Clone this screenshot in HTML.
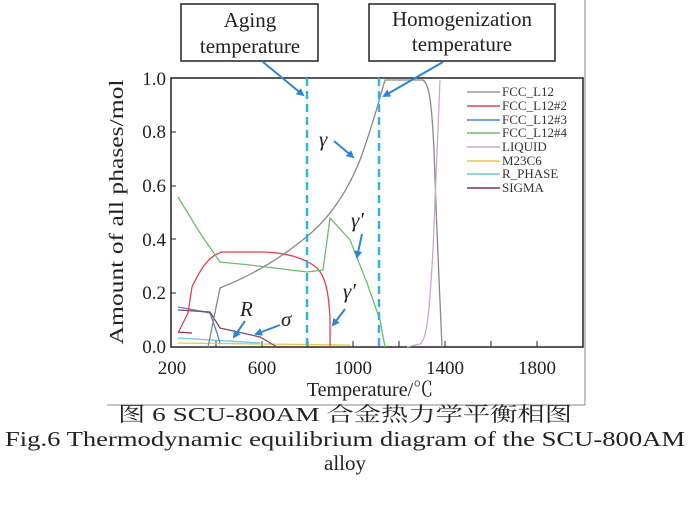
<!DOCTYPE html>
<html><head><meta charset="utf-8"><style>
html,body{margin:0;padding:0;background:#fff;}
svg{display:block;font-family:"Liberation Serif","Noto Serif CJK SC",serif;}
</style></head><body>
<svg width="690" height="512" viewBox="0 0 690 512" xmlns="http://www.w3.org/2000/svg">
<defs><marker id="ar" markerWidth="8" markerHeight="8" refX="6" refY="4" orient="auto" markerUnits="userSpaceOnUse"><path d="M0,0 L8,4 L0,8 z" fill="#2f86d0"/></marker></defs>
<line x1="585" y1="0" x2="585" y2="405" stroke="#888" stroke-width="1"/>
<line x1="107" y1="405" x2="585" y2="405" stroke="#888" stroke-width="1"/>
<rect x="171" y="78" width="412" height="269" fill="none" stroke="#222" stroke-width="1.5"/>
<g stroke="#222" stroke-width="1">
<line x1="216" y1="347" x2="216" y2="341"/><line x1="262" y1="347" x2="262" y2="341"/><line x1="308" y1="347" x2="308" y2="341"/><line x1="353" y1="347" x2="353" y2="341"/><line x1="399" y1="347" x2="399" y2="341"/><line x1="445" y1="347" x2="445" y2="341"/><line x1="491" y1="347" x2="491" y2="341"/><line x1="537" y1="347" x2="537" y2="341"/>
<line x1="171" y1="293" x2="176" y2="293"/><line x1="171" y1="239" x2="176" y2="239"/><line x1="171" y1="186" x2="176" y2="186"/><line x1="171" y1="132" x2="176" y2="132"/>
</g>
<g font-size="19" text-anchor="end" fill="#222">
<text x="166" y="353">0.0</text><text x="166" y="299">0.2</text><text x="166" y="246">0.4</text><text x="166" y="192">0.6</text><text x="166" y="138">0.8</text><text x="166" y="85">1.0</text>
</g>
<text transform="translate(123,212) rotate(-90)" font-size="20" text-anchor="middle" fill="#222" textLength="265" lengthAdjust="spacingAndGlyphs">Amount of all phases/mol</text>
<g font-size="19" text-anchor="middle" fill="#222">
<text x="172" y="374">200</text><text x="262" y="374">600</text><text x="353" y="374">1000</text><text x="445" y="374">1400</text><text x="537" y="374">1800</text>
</g>
<text x="370" y="396" font-size="20" text-anchor="middle" fill="#222">Temperature/℃</text>
<g fill="none" stroke-width="1.3">
<polyline stroke="#e8c84a" points="178,343 260,344 350,345"/>
<polyline stroke="#6cc7e8" points="178,338 260,343"/>
<polyline stroke="#4a86c8" points="178,307 210,313 217,333 220,343"/>
<polyline stroke="#7a4a6a" points="178,310 210,312 220,328 260,337 277,347"/>
<polyline stroke="#8a3040" points="178,332 192,333"/>
<path stroke="#e04050" d="M178,333 L188,313 L192,287 C200,270 208,256 222,252 L260,252 C285,252 305,258 317,268 C326,277 329,295 330,320 L330,347"/>
<polyline stroke="#6cbc6c" points="178,197 200,233 220,262 250,265 307,272 323,270 328,233 330,218 350,240 367,283 380,320 385,347"/>
<path stroke="#888" d="M208,347 L220,288 C240,280 270,266 300,242 C330,220 348,190 360,160 C370,133 378,105 385,80 L423,80 C430,84 432,110 434,150 C437,240 440,300 442,347"/>
<path stroke="#c8a8d0" d="M407,347 L420,344 C428,340 430,300 433,250 C436,180 438,120 440,80"/>
</g>
<line x1="307" y1="78" x2="307" y2="347" stroke="#3ab0e0" stroke-width="2.5" stroke-dasharray="8,5"/>
<line x1="379" y1="78" x2="379" y2="347" stroke="#3ab0e0" stroke-width="2.5" stroke-dasharray="8,5"/>
<rect x="181" y="4" width="137" height="57" fill="#fff" stroke="#222" stroke-width="1.5"/>
<text x="250" y="27" font-size="21" text-anchor="middle" fill="#222">Aging</text>
<text x="250" y="53" font-size="21" text-anchor="middle" fill="#222">temperature</text>
<rect x="369" y="4" width="186" height="57" fill="#fff" stroke="#222" stroke-width="1.5"/>
<text x="462" y="26" font-size="21" text-anchor="middle" fill="#222">Homogenization</text>
<text x="462" y="51" font-size="21" text-anchor="middle" fill="#222">temperature</text>
<g stroke="#2f86d0" stroke-width="2" marker-end="url(#ar)">
<line x1="263" y1="62" x2="303" y2="95"/>
<line x1="443" y1="62" x2="384" y2="96"/>
<line x1="334" y1="141" x2="353" y2="157"/>
<line x1="362" y1="234" x2="357" y2="257"/>
<line x1="345" y1="309" x2="333" y2="325"/>
<line x1="245" y1="321" x2="234" y2="337"/>
<line x1="280" y1="325" x2="256" y2="334"/>
</g>
<g font-size="21" font-style="italic" fill="#222">
<text x="319" y="146">γ</text>
<text x="351" y="227">γ′</text>
<text x="343" y="298">γ′</text>
<text x="240" y="316">R</text>
<text x="281" y="326">σ</text>
</g>
<g stroke-width="1.5">
<line x1="467" y1="92" x2="500" y2="92" stroke="#999"/>
<line x1="467" y1="106" x2="500" y2="106" stroke="#e04050"/>
<line x1="467" y1="120" x2="500" y2="120" stroke="#4a86c8"/>
<line x1="467" y1="133" x2="500" y2="133" stroke="#6cbc6c"/>
<line x1="467" y1="147" x2="500" y2="147" stroke="#c8a8d0"/>
<line x1="467" y1="161" x2="500" y2="161" stroke="#e8c84a"/>
<line x1="467" y1="174" x2="500" y2="174" stroke="#6cc7e8"/>
<line x1="467" y1="188" x2="500" y2="188" stroke="#8a3040"/>
</g>
<g font-size="13" fill="#333">
<text x="502" y="96">FCC_L12</text><text x="502" y="110">FCC_L12#2</text><text x="502" y="124">FCC_L12#3</text><text x="502" y="137">FCC_L12#4</text><text x="502" y="151">LIQUID</text><text x="502" y="165">M23C6</text><text x="502" y="178">R_PHASE</text><text x="502" y="192">SIGMA</text>
</g>
<text x="345" y="421" font-size="20" text-anchor="middle" fill="#222" textLength="454" lengthAdjust="spacingAndGlyphs">图 6  SCU-800AM 合金热力学平衡相图</text>
<text x="345" y="446" font-size="21" text-anchor="middle" fill="#222" textLength="680" lengthAdjust="spacingAndGlyphs">Fig.6  Thermodynamic equilibrium diagram of the SCU-800AM</text>
<text x="345" y="470" font-size="21" text-anchor="middle" fill="#222">alloy</text>
</svg>
</body></html>
